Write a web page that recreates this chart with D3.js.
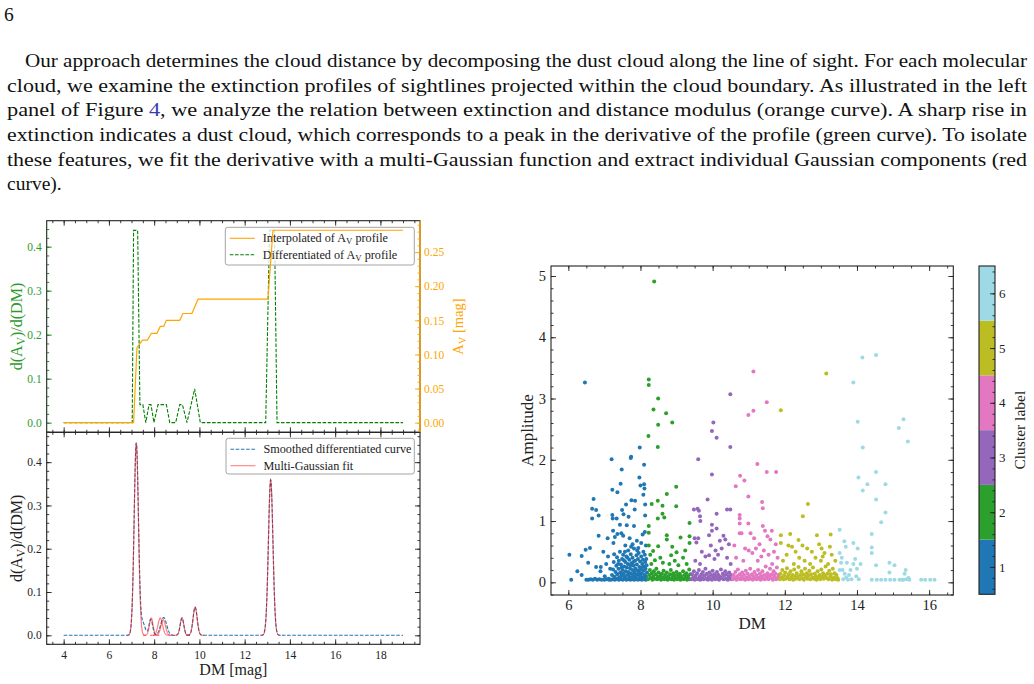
<!DOCTYPE html>
<html>
<head>
<meta charset="utf-8">
<script src="https://cdn.jsdelivr.net/npm/d3@7"></script>
<style>
  body { margin: 0; background: #fff; }
  svg text { font-family: "Liberation Serif", "DejaVu Serif", serif; }
</style>
</head>
<body>
<svg id="page" width="1034" height="684"></svg>
<script>
// ---- page text ----
const pageNumber = "6";
const paraLines = [
  "Our approach determines the cloud distance by decomposing the dust cloud along the line of sight. For each molecular",
  "cloud, we examine the extinction profiles of sightlines projected within the cloud boundary. As illustrated in the left",
  ["panel of Figure ", "4", ", we analyze the relation between extinction and distance modulus (orange curve). A sharp rise in"],
  "extinction indicates a dust cloud, which corresponds to a peak in the derivative of the profile (green curve). To isolate",
  "these features, we fit the derivative with a multi-Gaussian function and extract individual Gaussian components (red",
  "curve)."
];

// ---- left top panel: A_V profile and its derivative ----
const dmOrange = [4, 7.09, 7.24, 7.48, 7.70, 7.88, 8.12, 8.27, 8.42, 8.54, 9.13, 9.27, 9.67, 9.94, 13.03, 13.25, 19];
const avOrange = [0, 0, 0.110, 0.121, 0.121, 0.131, 0.131, 0.141, 0.141, 0.150, 0.150, 0.160, 0.160, 0.181, 0.181, 0.282, 0.282];
const dmGreen = [4, 7.03, 7.09, 7.27, 7.37, 7.50, 7.63, 7.77, 7.86, 7.99, 8.17, 8.54, 8.69, 8.95, 9.13, 9.25, 9.45, 9.79, 10.04, 12.93, 13.10, 13.32, 13.43, 19];
const dAvGreen = [0, 0, 0.437, 0.437, 0.041, 0.041, 0, 0.041, 0.041, 0, 0.041, 0.041, 0, 0, 0.041, 0.041, 0, 0.077, 0, 0, 0.437, 0.437, 0, 0];

// ---- left bottom panel: smoothed curve and gaussian components (mean, amplitude, sigma) ----
const smoothMeans = [7.21, 7.50, 7.85, 8.42, 9.23, 9.81, 13.15];
const smoothAmps = [0.444, 0.028, 0.037, 0.041, 0.040, 0.065, 0.359];
const smoothSigmas = [0.095, 0.10, 0.08, 0.13, 0.08, 0.09, 0.10];
const fitMeans = [7.21, 7.87, 8.27, 8.40, 9.23, 9.81, 13.15];
const fitAmps = [0.444, 0.040, 0.040, 0.036, 0.040, 0.065, 0.359];
const fitSigmas = [0.095, 0.08, 0.10, 0.10, 0.08, 0.09, 0.10];

// ---- scatter: [DM, amplitude] per cluster ----
const cluster1 = [
  [6.03,0.45],[6.08,0.04],[6.25,0.18],[6.37,0.12],[6.37,0.43],[6.46,3.26],[6.48,0.53],[6.55,0.32],[6.60,0.56],[6.66,1.04],
  [6.66,1.20],[6.70,1.36],[6.77,1.18],[6.84,1.09],[6.84,0.76],[6.77,0.25],[6.90,0.25],[6.89,0.18],[6.50,0.04],[6.56,0.04],
  [6.62,0.05],[6.68,0.04],[6.74,0.06],[6.80,0.04],[6.86,0.05],[6.92,0.04],[6.97,0.50],[7.01,0.10],[7.05,0.30],[7.09,0.72],
  [7.10,0.42],[7.13,0.04],[7.16,0.22],[7.20,2.01],[7.22,1.51],[7.22,1.10],[7.23,1.04],[7.25,0.64],[7.24,0.84],[7.27,0.46],
  [7.29,0.74],[7.34,1.04],[7.36,1.47],[7.36,0.79],[7.45,1.61],[7.48,1.84],[7.49,1.18],[7.43,0.94],[7.47,0.80],[7.52,0.76],
  [7.53,1.11],[7.60,1.27],[7.58,0.60],[7.62,0.93],[7.67,1.07],[7.73,2.03],[7.74,2.05],[7.75,1.34],[7.70,0.72],[7.78,0.62],
  [7.84,1.19],[7.85,1.33],[7.82,0.92],[7.90,0.68],[7.97,1.71],[7.98,2.20],[8.00,1.58],[8.10,1.92],[8.10,1.60],[8.11,1.53],
  [8.08,1.43],[8.13,1.27],[8.13,1.09],[8.06,0.78],[8.12,0.82],[8.02,0.64],[7.94,0.56],[8.15,0.60],
  [7.00,0.04],[7.06,0.05],[7.12,0.06],[7.18,0.04],[7.23,0.05],[7.29,0.04],[7.34,0.06],[7.40,0.04],[7.44,0.05],[7.51,0.04],
  [7.55,0.06],[7.61,0.04],[7.66,0.05],[7.72,0.04],[7.78,0.05],[7.83,0.04],[7.88,0.06],[7.93,0.04],[7.99,0.05],[8.04,0.04],
  [8.09,0.06],[8.14,0.04],[8.19,0.05],
  [7.21,0.12],[7.24,0.21],[7.26,0.33],[7.28,0.09],[7.31,0.17],[7.33,0.27],[7.35,0.41],[7.36,0.13],[7.39,0.22],[7.40,0.35],
  [7.41,0.08],[7.43,0.50],[7.44,0.16],[7.46,0.29],[7.47,0.11],[7.49,0.38],[7.50,0.20],[7.52,0.45],[7.53,0.14],[7.55,0.26],
  [7.56,0.09],[7.58,0.33],[7.59,0.18],[7.61,0.42],[7.62,0.24],[7.63,0.12],[7.65,0.30],[7.66,0.52],[7.67,0.17],[7.69,0.37],
  [7.70,0.08],[7.71,0.23],[7.73,0.46],[7.74,0.14],[7.75,0.31],[7.77,0.20],[7.78,0.40],[7.79,0.10],[7.81,0.27],[7.82,0.55],
  [7.83,0.16],[7.85,0.35],[7.86,0.22],[7.87,0.09],[7.89,0.44],[7.90,0.29],[7.91,0.13],[7.93,0.38],[7.94,0.19],[7.95,0.48],
  [7.97,0.25],[7.98,0.11],[7.99,0.34],[8.01,0.21],[8.02,0.42],[8.03,0.15],[8.05,0.30],[8.06,0.08],[8.07,0.37],[8.09,0.19],
  [8.10,0.26],[8.11,0.12],[8.13,0.33],[8.14,0.22],[8.15,0.10],[8.17,0.28],[8.18,0.16],[7.30,0.06],[7.45,0.07],[7.60,0.06],
  [7.76,0.07],[7.92,0.06],[8.08,0.07],[7.54,0.36],[7.72,0.28],[7.88,0.20],[8.04,0.24],[7.64,0.40],[7.80,0.33],[7.96,0.16],
  [8.12,0.45],[7.38,0.30],[7.48,0.24],[7.68,0.13],[7.84,0.12],[8.00,0.10],[8.16,0.38],[7.57,0.50],[7.91,0.52],[8.08,0.50],
  [7.74,0.58]
];
const cluster2 = [
  [8.38,4.91],[8.23,3.31],[8.23,3.22],[8.49,3.00],[8.36,2.82],[8.49,2.57],[8.71,2.76],[8.88,2.61],[8.22,2.39],[8.48,2.21],
  [8.31,1.28],[8.48,1.33],[8.73,1.44],[8.99,1.56],[8.99,1.24],[8.61,1.25],[8.61,1.12],[8.66,1.06],[8.48,1.04],[8.23,0.92],
  [8.23,0.81],[8.73,0.77],[8.73,0.70],[9.11,0.73],[9.36,0.97],[9.36,0.75],[9.36,0.64],[8.88,0.58],[8.49,0.59],[8.23,0.60],
  [9.24,0.52],[8.85,0.44],[9.00,0.49],[8.35,0.51],[8.27,0.45],[8.40,0.36],[8.55,0.40],[8.62,0.32],[8.80,0.30],[8.95,0.35],
  [9.05,0.28],[9.18,0.40],[9.28,0.30],[8.30,0.30],
  [8.21,0.05],[8.24,0.12],[8.26,0.20],[8.28,0.07],[8.31,0.15],[8.33,0.04],[8.35,0.10],[8.37,0.18],[8.39,0.06],[8.42,0.13],
  [8.44,0.22],[8.46,0.05],[8.48,0.09],[8.50,0.16],[8.53,0.06],[8.55,0.11],[8.57,0.04],[8.59,0.14],[8.62,0.08],[8.64,0.19],
  [8.66,0.05],[8.68,0.12],[8.71,0.07],[8.73,0.16],[8.75,0.04],[8.77,0.10],[8.80,0.06],[8.82,0.13],[8.84,0.20],[8.86,0.05],
  [8.89,0.09],[8.91,0.15],[8.93,0.04],[8.95,0.11],[8.98,0.07],[9.00,0.17],[9.02,0.05],[9.04,0.12],[9.07,0.08],[9.09,0.14],
  [9.11,0.04],[9.13,0.10],[9.16,0.06],[9.18,0.18],[9.20,0.05],[9.22,0.12],[9.25,0.08],[9.27,0.15],[9.29,0.04],[9.31,0.10],
  [9.33,0.06],[9.35,0.21],[9.37,0.05],[9.38,0.13]
];
const cluster3 = [
  [10.49,3.07],[10.02,2.61],[9.98,2.47],[10.11,2.36],[10.49,2.21],[9.60,2.01],[9.98,1.76],[9.86,1.35],[9.48,1.19],[9.58,1.20],
  [9.62,1.17],[9.65,1.08],[9.66,1.00],[10.11,1.12],[10.40,1.19],[10.49,1.19],[9.98,0.94],[10.11,0.88],[9.98,0.84],[9.90,0.77],
  [9.50,0.72],[9.55,0.65],[9.60,0.72],[10.30,0.76],[10.35,0.70],[10.45,0.62],[10.20,0.68],[10.25,0.55],[9.70,0.50],[9.80,0.42],
  [9.90,0.44],[10.05,0.38],[10.15,0.45],[10.40,0.40],[9.52,0.35],[9.65,0.30],[10.50,0.30],[9.95,0.60],[10.08,0.52],
  [9.41,0.05],[9.43,0.13],[9.46,0.08],[9.48,0.18],[9.50,0.04],[9.53,0.11],[9.55,0.06],[9.57,0.15],[9.60,0.05],[9.62,0.20],
  [9.64,0.09],[9.66,0.04],[9.69,0.13],[9.71,0.07],[9.73,0.17],[9.75,0.05],[9.78,0.11],[9.80,0.22],[9.82,0.06],[9.84,0.14],
  [9.87,0.04],[9.89,0.09],[9.91,0.16],[9.93,0.06],[9.96,0.12],[9.98,0.04],[10.00,0.19],[10.02,0.08],[10.05,0.13],[10.07,0.05],
  [10.09,0.10],[10.12,0.17],[10.14,0.06],[10.16,0.12],[10.18,0.04],[10.21,0.09],[10.23,0.21],[10.25,0.07],[10.28,0.14],[10.30,0.05],
  [10.32,0.11],[10.35,0.18],[10.37,0.06],[10.39,0.13],[10.42,0.04],[10.44,0.09],[10.46,0.16],[10.48,0.06],[10.51,0.12],[10.53,0.05]
];
const cluster4 = [
  [11.13,3.44],[11.13,2.80],[10.99,2.73],[11.50,2.94],[11.24,1.93],[11.50,1.80],[11.76,1.80],[10.76,1.74],[10.88,1.66],[10.64,1.57],
  [11.37,1.31],[11.39,1.21],[10.99,1.40],[10.75,1.10],[10.75,1.04],[10.75,0.96],[10.99,0.96],[11.39,0.92],[11.64,0.84],[11.45,0.84],
  [11.52,0.75],[11.60,0.70],[10.60,0.60],[10.80,0.80],[10.75,0.80],[10.90,0.55],[11.00,0.52],[11.10,0.48],[11.20,0.55],[11.05,0.80],
  [11.15,0.72],[11.30,0.62],[11.42,0.52],[11.55,0.45],[11.70,0.50],[11.80,0.40],[10.65,0.40],[10.85,0.35],[11.25,0.35],[11.35,0.42],
  [11.65,0.30],[11.75,0.62],
  [10.56,0.05],[10.58,0.12],[10.61,0.07],[10.63,0.17],[10.66,0.04],[10.68,0.10],[10.70,0.21],[10.73,0.06],[10.75,0.13],[10.78,0.05],
  [10.80,0.09],[10.82,0.16],[10.85,0.06],[10.87,0.12],[10.90,0.04],[10.92,0.19],[10.94,0.08],[10.97,0.14],[10.99,0.05],[11.02,0.10],
  [11.04,0.22],[11.07,0.06],[11.09,0.13],[11.11,0.04],[11.14,0.09],[11.16,0.17],[11.19,0.06],[11.21,0.12],[11.23,0.05],[11.26,0.20],
  [11.28,0.08],[11.31,0.14],[11.33,0.04],[11.35,0.10],[11.38,0.18],[11.40,0.06],[11.43,0.12],[11.45,0.05],[11.47,0.26],[11.50,0.09],
  [11.52,0.15],[11.55,0.05],[11.57,0.11],[11.59,0.22],[11.62,0.07],[11.64,0.13],[11.67,0.04],[11.69,0.18],[11.71,0.09],[11.74,0.14],
  [11.76,0.05],[11.78,0.24],[11.81,0.08],[11.83,0.12]
];
const cluster5 = [
  [11.89,2.81],[13.15,3.41],[12.64,1.28],[12.50,1.08],[11.89,0.77],[11.89,0.64],[12.15,0.79],[12.89,0.77],[13.27,0.78],[12.49,0.60],
  [12.38,0.69],[12.10,0.60],[12.20,0.58],[12.30,0.50],[12.05,0.45],[12.62,0.55],[12.75,0.50],[12.95,0.62],[13.02,0.55],[13.10,0.48],
  [13.25,0.58],[13.30,0.45],[12.85,0.40],[12.40,0.40],[12.55,0.35],[13.00,0.35],[13.20,0.30],[13.40,0.35],[11.95,0.35],[12.70,0.30],
  [12.25,0.30],[13.05,0.42],
  [11.86,0.05],[11.88,0.14],[11.91,0.08],[11.93,0.20],[11.96,0.05],[11.98,0.11],[12.01,0.16],[12.03,0.06],[12.06,0.23],[12.08,0.09],
  [12.11,0.13],[12.13,0.05],[12.16,0.18],[12.18,0.08],[12.21,0.12],[12.23,0.04],[12.26,0.21],[12.28,0.10],[12.31,0.06],[12.33,0.15],
  [12.36,0.09],[12.38,0.25],[12.41,0.05],[12.43,0.12],[12.46,0.18],[12.48,0.07],[12.51,0.13],[12.53,0.04],[12.56,0.22],[12.58,0.09],
  [12.61,0.15],[12.63,0.06],[12.66,0.11],[12.68,0.19],[12.71,0.05],[12.73,0.13],[12.76,0.08],[12.78,0.24],[12.81,0.06],[12.83,0.14],
  [12.86,0.10],[12.88,0.04],[12.91,0.18],[12.93,0.08],[12.96,0.12],[12.98,0.05],[13.01,0.21],[13.03,0.09],[13.06,0.15],[13.08,0.06],
  [13.11,0.11],[13.13,0.26],[13.16,0.07],[13.18,0.14],[13.21,0.05],[13.23,0.19],[13.26,0.09],[13.28,0.13],[13.31,0.04],[13.33,0.22],
  [13.36,0.08],[13.38,0.15],[13.41,0.05],[13.43,0.12],[13.46,0.07],[13.48,0.04]
];
const cluster6 = [
  [14.15,3.67],[14.53,3.71],[13.90,3.26],[14.02,2.62],[14.16,2.20],[15.16,2.52],[15.29,2.66],[15.41,2.30],[14.04,1.71],[14.53,1.80],
  [14.29,1.60],[14.16,1.50],[14.79,1.60],[14.53,1.35],[14.79,1.14],[14.67,0.98],[14.41,0.79],[13.52,0.86],[13.65,0.67],[13.90,0.64],
  [13.69,0.58],[14.02,0.55],[14.41,0.57],[14.41,0.48],[14.53,0.28],[14.90,0.32],[15.04,0.28],[14.90,0.16],[15.35,0.20],[15.32,0.14],
  [15.43,0.07],[14.41,0.04],[14.55,0.04],[14.67,0.04],[14.79,0.04],[14.92,0.04],[15.04,0.04],[15.18,0.04],[15.29,0.04],[15.45,0.04],
  [15.78,0.04],[15.89,0.04],[16.03,0.04],[16.15,0.04],[13.52,0.48],[13.56,0.32],[13.52,0.20],[13.60,0.20],[13.66,0.14],[13.70,0.08],
  [13.78,0.12],[13.85,0.05],[13.82,0.20],[13.90,0.30],[13.95,0.38],[14.00,0.22],[13.98,0.10],[13.62,0.05],[13.75,0.04],[14.05,0.05],
  [14.10,0.30],[13.58,0.40],[13.72,0.32],[15.38,0.05],[15.26,0.04]
];
const clusterLabels = [1, 2, 3, 4, 5, 6];
const clusterColors = ["#1f77b4", "#2ca02c", "#9467bd", "#e377c2", "#bcbd22", "#9edae5"];

// ---- helpers ----
const svg = d3.select("#page");
const INK = "#222";
const GREEN = "#008000", GREEN_TXT = "#2e9a2e", ORANGE = "#ffa500";

function steps(a, b, st) {
  return d3.range(Math.round(a / st), Math.round(b / st) + 1).map(i => +(i * st).toFixed(4));
}
function within(scale) {
  const [a, b] = d3.extent(scale.domain());
  return v => v >= a - 1e-9 && v <= b + 1e-9;
}
// inward ticks; labels only when fmt given
function ticks(make, scale, tx, ty, values, len, color, fmt, pad, fs, fill) {
  const ax = make(scale).tickValues(values.filter(within(scale)))
    .tickSizeInner(-len).tickSizeOuter(0).tickPadding(pad || 4)
    .tickFormat(fmt || (() => ""));
  const g = svg.append("g").attr("transform", `translate(${tx},${ty})`).call(ax);
  g.select(".domain").remove();
  g.attr("font-family", null).attr("font-size", fs || 11);
  g.selectAll(".tick line").attr("stroke", color).attr("stroke-width", 0.9);
  g.selectAll(".tick text").attr("fill", fill || INK);
  return g;
}
// text with subscript pieces: parts = [[str, isSub], ...]
function rich(sel, parts) {
  parts.forEach(([s, sub], i) => {
    const t = sel.append("tspan").text(s);
    if (sub) t.attr("font-size", "72%").attr("dy", "0.25em");
    else if (i > 0 && parts[i - 1][1]) t.attr("dy", "-0.18em");
  });
  return sel;
}
function gaussSum(x, means, amps, sigmas) {
  return d3.sum(means, (m, i) => amps[i] * Math.exp(-0.5 * ((x - m) / sigmas[i]) ** 2));
}

// ---- page text ----
svg.append("text").attr("x", 4).attr("y", 20.5).attr("font-size", 19.5).attr("fill", "#111").text(pageNumber);
const baseY = 67, lineGap = 24.65;
paraLines.forEach((ln, i) => {
  const x0 = i === 0 ? 25 : 7;
  const t = svg.append("text").attr("x", x0).attr("y", baseY + i * lineGap)
    .attr("font-size", 19.5).attr("fill", "#111").attr("xml:space", "preserve");
  if (Array.isArray(ln)) {
    ln.forEach((s, k) => t.append("tspan").attr("fill", k === 1 ? "#3a3ab0" : "#111").text(s));
  } else {
    t.text(ln);
  }
  if (i < paraLines.length - 1) {
    t.attr("textLength", 1027 - x0).attr("lengthAdjust", "spacingAndGlyphs");
  }
});

// ---- left figure ----
const L = { x0: 46.7, x1: 420, top: 220.7, mid: 432.3, bot: 644.3 };
const xL = d3.scaleLinear([3.25, 19.75], [L.x0, L.x1]);
const yG = d3.scaleLinear([-0.0219, 0.459], [L.mid, L.top]);
const yO = d3.scaleLinear([-0.0141, 0.296], [L.mid, L.top]);
const yB = d3.scaleLinear([-0.0208, 0.469], [L.bot, L.mid]);

const defs = svg.append("defs");
defs.append("clipPath").attr("id", "clipTop").append("rect")
  .attr("x", L.x0).attr("y", L.top).attr("width", L.x1 - L.x0).attr("height", L.mid - L.top);
defs.append("clipPath").attr("id", "clipBot").append("rect")
  .attr("x", L.x0).attr("y", L.mid).attr("width", L.x1 - L.x0).attr("height", L.bot - L.mid);

// top panel: green derivative
const lineG = d3.line().x((d, i) => xL(dmGreen[i])).y(d => yG(d));
svg.append("path").attr("clip-path", "url(#clipTop)").datum(dAvGreen)
  .attr("fill", "none").attr("stroke", GREEN).attr("stroke-width", 1.1)
  .attr("stroke-dasharray", "3.6,1.6").attr("d", lineG);

// legend
function legend(x, y, w, h, items) {
  const g = svg.append("g");
  g.append("rect").attr("x", x).attr("y", y).attr("width", w).attr("height", h).attr("rx", 2.5)
    .attr("fill", "#fff").attr("fill-opacity", 0.8).attr("stroke", "#9a9a9a").attr("stroke-width", 0.9);
  items.forEach((it, i) => {
    const cy = y + 11 + i * 16.4;
    g.append("line").attr("x1", x + 4.5).attr("x2", x + 29.5).attr("y1", cy).attr("y2", cy)
      .attr("stroke", it.color).attr("stroke-width", 1.1).attr("stroke-opacity", it.opacity || 1)
      .attr("stroke-dasharray", it.dash || null);
    rich(g.append("text").attr("x", x + 37.5).attr("y", cy + 4).attr("font-size", 12.2).attr("fill", INK), it.parts);
  });
}
legend(225.3, 227.3, 189, 37.7, [
  { color: ORANGE, parts: [["Interpolated of A"], ["V", true], [" profile"]] },
  { color: GREEN, dash: "3.6,1.6", parts: [["Differentiated of A"], ["V", true], [" profile"]] }
]);

// top panel: orange profile (twin axis, drawn above)
const lineO = d3.line().x((d, i) => xL(dmOrange[i])).y(d => yO(d));
svg.append("path").attr("clip-path", "url(#clipTop)").datum(avOrange)
  .attr("fill", "none").attr("stroke", ORANGE).attr("stroke-width", 1.2).attr("d", lineO);

// bottom panel: smoothed curve and gaussian components
const xsFull = d3.range(4, 19.001, 0.01);
const lineB = d3.line().x(d => xL(d[0])).y(d => yB(d[1]));
svg.append("path").attr("clip-path", "url(#clipBot)")
  .datum(xsFull.map(x => [x, gaussSum(x, smoothMeans, smoothAmps, smoothSigmas)]))
  .attr("fill", "none").attr("stroke", "#1f77b4").attr("stroke-width", 1.1)
  .attr("stroke-dasharray", "3.6,1.6").attr("d", lineB);
fitMeans.forEach((m, i) => {
  const xs = d3.range(m - 4.5 * fitSigmas[i], m + 4.5 * fitSigmas[i], 0.005);
  svg.append("path").attr("clip-path", "url(#clipBot)")
    .datum(xs.map(x => [x, gaussSum(x, [m], [fitAmps[i]], [fitSigmas[i]])]))
    .attr("fill", "none").attr("stroke", "#ff0000").attr("stroke-opacity", 0.5)
    .attr("stroke-width", 1.2).attr("d", lineB);
});
legend(226, 438.3, 188.3, 35.7, [
  { color: "#1f77b4", dash: "3.6,1.6", parts: [["Smoothed differentiated curve"]] },
  { color: "#ff0000", opacity: 0.5, parts: [["Multi-Gaussian fit"]] }
]);

// frames
svg.append("rect").attr("x", L.x0).attr("y", L.top).attr("width", L.x1 - L.x0).attr("height", L.mid - L.top)
  .attr("fill", "none").attr("stroke", INK).attr("stroke-width", 1.1);
svg.append("rect").attr("x", L.x0).attr("y", L.mid).attr("width", L.x1 - L.x0).attr("height", L.bot - L.mid)
  .attr("fill", "none").attr("stroke", INK).attr("stroke-width", 1.1);
svg.append("line").attr("x1", L.x1).attr("x2", L.x1).attr("y1", L.top).attr("y2", L.mid)
  .attr("stroke", ORANGE).attr("stroke-width", 1.3);

// left figure ticks
const xMajL = steps(4, 18, 2), xMinL = steps(3.5, 19.5, 0.5);
[L.mid, L.top].forEach(y => {
  const make = y === L.top ? d3.axisTop : d3.axisBottom;
  ticks(make, xL, 0, y, xMinL, 2.5, INK);
  ticks(make, xL, 0, y, xMajL, 5, INK);
});
ticks(d3.axisTop, xL, 0, L.mid, xMinL, 2.5, INK);
ticks(d3.axisTop, xL, 0, L.mid, xMajL, 5, INK);
ticks(d3.axisBottom, xL, 0, L.bot, xMinL, 2.5, INK);
ticks(d3.axisBottom, xL, 0, L.bot, xMajL, 5, INK, d => d, 6.5, 11.5);

ticks(d3.axisLeft, yG, L.x0, 0, steps(-0.02, 0.46, 0.02), 2.5, GREEN);
ticks(d3.axisLeft, yG, L.x0, 0, steps(0, 0.4, 0.1), 5, GREEN, d3.format(".1f"), 5, 11.5, GREEN_TXT);
ticks(d3.axisRight, yO, L.x1, 0, steps(-0.01, 0.29, 0.01), 2.5, ORANGE);
ticks(d3.axisRight, yO, L.x1, 0, steps(0, 0.25, 0.05), 5, ORANGE, d3.format(".2f"), 4, 11.5, ORANGE);

ticks(d3.axisLeft, yB, L.x0, 0, steps(-0.02, 0.46, 0.02), 2.5, INK);
ticks(d3.axisLeft, yB, L.x0, 0, steps(0, 0.4, 0.1), 5, INK, d3.format(".1f"), 5, 11.5);
ticks(d3.axisRight, yB, L.x1, 0, steps(-0.02, 0.46, 0.02), 2.5, INK);
ticks(d3.axisRight, yB, L.x1, 0, steps(0, 0.4, 0.1), 5, INK);

// left figure labels
rich(svg.append("text").attr("transform", `translate(16.7,${(L.top + L.mid) / 2}) rotate(-90)`)
  .attr("text-anchor", "middle").attr("dy", "0.35em").attr("font-size", 16).attr("fill", GREEN_TXT),
  [["d(A"], ["V", true], [")/d(DM)"]]);
rich(svg.append("text").attr("transform", `translate(16.7,${(L.mid + L.bot) / 2}) rotate(-90)`)
  .attr("text-anchor", "middle").attr("dy", "0.35em").attr("font-size", 16).attr("fill", INK),
  [["d(A"], ["V", true], [")/d(DM)"]]);
rich(svg.append("text").attr("transform", `translate(458.3,${(L.top + L.mid) / 2}) rotate(-90)`)
  .attr("text-anchor", "middle").attr("dy", "0.35em").attr("font-size", 14.5).attr("fill", ORANGE),
  [["A"], ["V", true], [" [mag]"]]);
svg.append("text").attr("x", (L.x0 + L.x1) / 2).attr("y", 675).attr("text-anchor", "middle")
  .attr("font-size", 16).attr("fill", INK).text("DM [mag]");

// ---- scatter ----
const S = { x0: 551, x1: 953.3, y0: 266, y1: 595 };
const xS = d3.scaleLinear([5.52, 16.67], [S.x0, S.x1]);
const yS = d3.scaleLinear([-0.207, 5.163], [S.y1, S.y0]);
const clusters = [cluster1, cluster2, cluster3, cluster4, cluster5, cluster6];
clusters.forEach((pts, i) => {
  svg.append("g").selectAll("circle").data(pts).join("circle")
    .attr("cx", d => xS(d[0])).attr("cy", d => yS(d[1])).attr("r", 2)
    .attr("fill", clusterColors[i]);
});
svg.append("rect").attr("x", S.x0).attr("y", S.y0).attr("width", S.x1 - S.x0).attr("height", S.y1 - S.y0)
  .attr("fill", "none").attr("stroke", INK).attr("stroke-width", 1.1);
const xMajS = steps(6, 16, 2), xMinS = steps(5.5, 16.5, 0.5);
const yMajS = steps(0, 5, 1), yMinS = steps(-0.2, 5.2, 0.2);
ticks(d3.axisBottom, xS, 0, S.y1, xMinS, 2.5, INK);
ticks(d3.axisBottom, xS, 0, S.y1, xMajS, 5, INK, d => d, 5, 14.5);
ticks(d3.axisTop, xS, 0, S.y0, xMinS, 2.5, INK);
ticks(d3.axisTop, xS, 0, S.y0, xMajS, 5, INK);
ticks(d3.axisLeft, yS, S.x0, 0, yMinS, 2.5, INK);
ticks(d3.axisLeft, yS, S.x0, 0, yMajS, 5, INK, d => d, 5, 14.5);
ticks(d3.axisRight, yS, S.x1, 0, yMinS, 2.5, INK);
ticks(d3.axisRight, yS, S.x1, 0, yMajS, 5, INK);
svg.append("text").attr("transform", `translate(526.7,${(S.y0 + S.y1) / 2}) rotate(-90)`)
  .attr("text-anchor", "middle").attr("dy", "0.35em").attr("font-size", 17).attr("fill", INK).text("Amplitude");
svg.append("text").attr("x", (S.x0 + S.x1) / 2).attr("y", 629).attr("text-anchor", "middle")
  .attr("font-size", 17).attr("fill", INK).text("DM");

// ---- colorbar ----
const CB = { x0: 979, x1: 995, y0: 266, y1: 594.3 };
const cS = d3.scaleLinear([0.5, 6.5], [CB.y1, CB.y0]);
svg.append("g").selectAll("rect").data(clusterLabels).join("rect")
  .attr("x", CB.x0).attr("width", CB.x1 - CB.x0)
  .attr("y", d => cS(d + 0.5)).attr("height", d => cS(d - 0.5) - cS(d + 0.5))
  .attr("fill", (d, i) => clusterColors[i]);
svg.append("rect").attr("x", CB.x0).attr("y", CB.y0).attr("width", CB.x1 - CB.x0).attr("height", CB.y1 - CB.y0)
  .attr("fill", "none").attr("stroke", INK).attr("stroke-width", 1.1);
ticks(d3.axisRight, cS, CB.x1, 0, steps(0.6, 6.4, 0.2), 2.5, INK);
ticks(d3.axisRight, cS, CB.x1, 0, clusterLabels, 5, INK, d => d, 4, 13);
svg.append("text").attr("transform", `translate(1020,${(CB.y0 + CB.y1) / 2}) rotate(-90)`)
  .attr("text-anchor", "middle").attr("dy", "0.35em").attr("font-size", 15.5).attr("fill", INK).text("Cluster label");
</script>
</body>
</html>
